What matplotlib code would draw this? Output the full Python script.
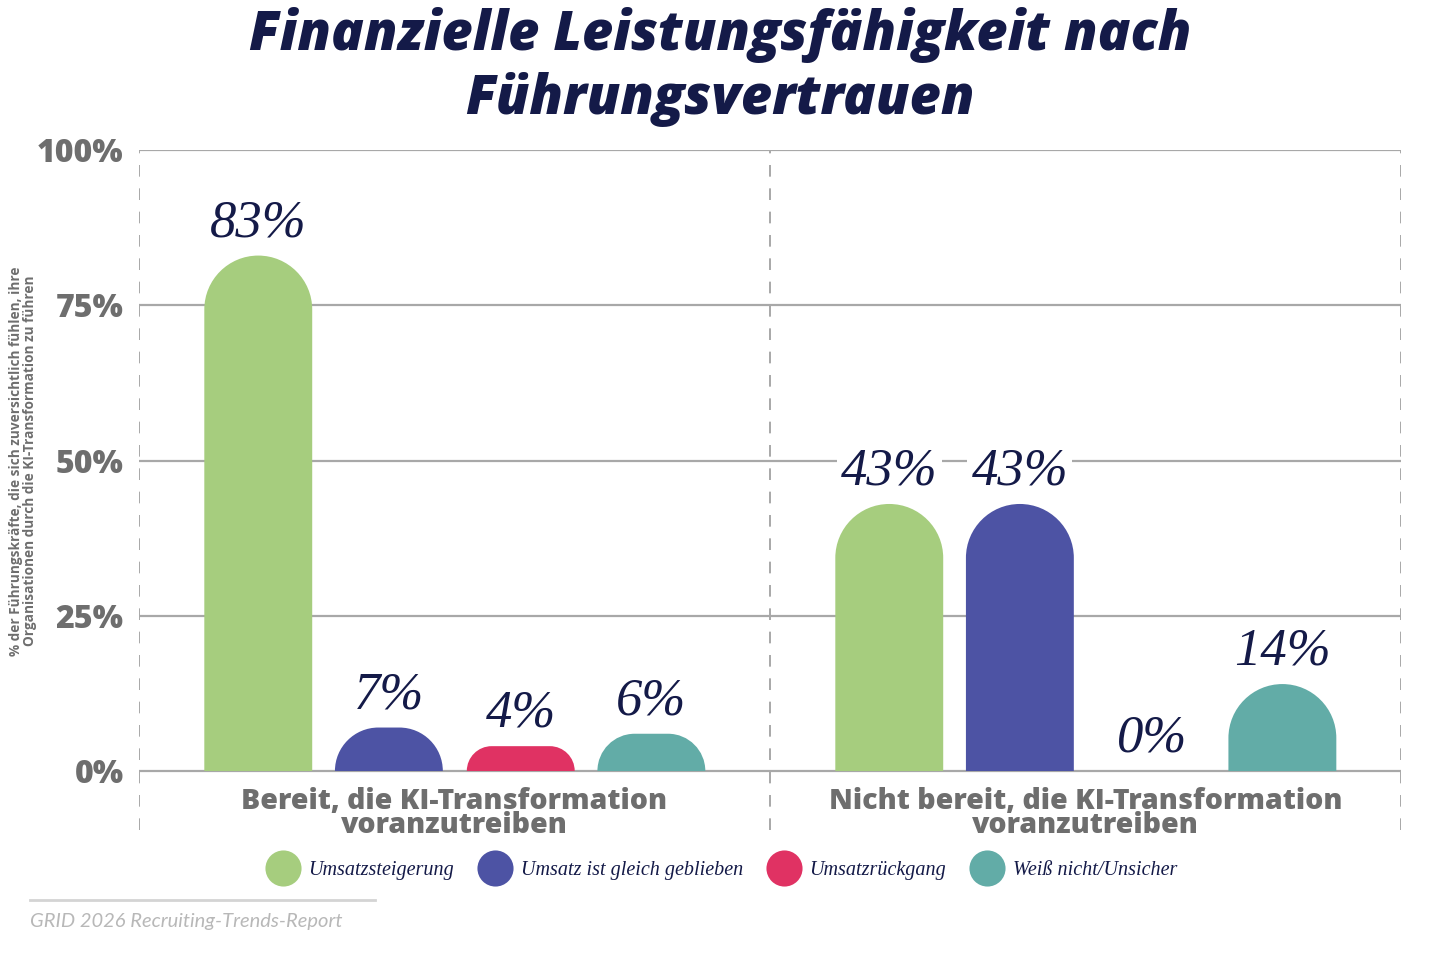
import matplotlib
matplotlib.use("Agg")
import matplotlib.pyplot as plt
from matplotlib.path import Path
from matplotlib.patches import PathPatch
from matplotlib.lines import Line2D

# data
groups = ["Bereit, die KI-Transformation\nvoranzutreiben",
          "Nicht bereit, die KI-Transformation\nvoranzutreiben"]
series = ["Umsatzsteigerung", "Umsatz ist gleich geblieben",
          "Umsatzrückgang", "Weiß nicht/Unsicher"]
values = [[83, 7, 4, 6],
          [43, 43, 0, 14]]
colors = ["#a6cd7e", "#4d53a4", "#e03263", "#62aca7"]
yticks = [0, 25, 50, 75, 100]
ytick_labels = ["0%", "25%", "50%", "75%", "100%"]

navy = "#141a48"
gray = "#6e6e6e"
grid_gray = "#a8a8a8"

W, H = 1440, 956
fig = plt.figure(figsize=(W / 100, H / 100), dpi=100)
ax = fig.add_axes([139 / W, (H - 830) / H, 1262 / W, 680 / H])
ax.set_xlim(-0.5, 1.5)
ax.set_ylim(-9.5, 100)
for s in ax.spines.values():
    s.set_visible(False)

# pixels per data unit
sx = 1262 / 2.0
sy = 680 / 109.5

offsets = [-0.311, -0.104, 0.105, 0.312]
width = 0.171


def rounded_bar(xc, h, w):
    """bar with rounded top corners, radius limited by height"""
    x0, x1 = xc - w / 2, xc + w / 2
    r_px = min(w * sx / 2, h * sy)
    rx, ry = r_px / sx, r_px / sy
    k = 0.5523
    verts = [(x0, 0), (x0, h - ry),
             (x0, h - ry + k * ry), (x0 + rx - k * rx, h), (x0 + rx, h),
             (x1 - rx, h),
             (x1 - rx + k * rx, h), (x1, h - ry + k * ry), (x1, h - ry),
             (x1, 0), (x0, 0)]
    codes = [Path.MOVETO, Path.LINETO,
             Path.CURVE4, Path.CURVE4, Path.CURVE4,
             Path.LINETO,
             Path.CURVE4, Path.CURVE4, Path.CURVE4,
             Path.LINETO, Path.CLOSEPOLY]
    return Path(verts, codes)


# grid
for y in yticks:
    ax.axhline(y, color=grid_gray, lw=1.6, zorder=1)
for x in [-0.5, 0.5, 1.5]:
    ax.plot([x, x], [-9.5, 100], color=grid_gray, lw=1.4,
            ls=(0, (6, 6)), zorder=1)

label_font = dict(family="Liberation Serif", style="italic", size=38,
                  color=navy)
for gi, vals in enumerate(values):
    for si, v in enumerate(vals):
        xc = gi + offsets[si]
        if v > 0:
            ax.add_patch(PathPatch(rounded_bar(xc, v, width),
                                   facecolor=colors[si], edgecolor="none",
                                   zorder=3))
        ax.annotate(f"{v}%", (xc, v), xytext=(0, 6),
                    textcoords="offset points", ha="center", va="bottom",
                    zorder=4,
                    bbox=dict(boxstyle="square,pad=0.08", fc="white",
                              ec="none"),
                    **label_font)

ax.set_xticks([])
ax.set_yticks(yticks)
ax.set_yticklabels(ytick_labels, fontfamily="Open Sans", fontweight="heavy",
                   fontsize=23, color=gray)
ax.tick_params(axis="y", length=0, pad=11)

for gi, g in enumerate(groups):
    ax.text(gi, -2.5, g, ha="center", va="top", fontfamily="Open Sans",
            fontweight="heavy", fontsize=20.5, color=gray, linespacing=0.78)

fig.text(23 / W, 1 - 461 / H,
         "% der Führungskräfte, die sich zuversichtlich fühlen, ihre\n"
         "Organisationen durch die KI-Transformation zu führen",
         rotation=90, ha="center", va="center", fontfamily="Open Sans",
         fontweight="bold", fontsize=9.8, color=gray, linespacing=1.05)

fig.text(0.5, 1 - 67 / H, "Finanzielle Leistungsfähigkeit nach\nFührungsvertrauen",
         ha="center", va="center", fontfamily="Open Sans", fontweight="heavy",
         style="italic", fontsize=39, color=navy, linespacing=1.2)

handles = [Line2D([], [], ls="none", marker="o", markersize=26,
                  markerfacecolor=c, markeredgecolor="none") for c in colors]
fig.legend(handles, series, loc="center", bbox_to_anchor=(0.5, 1 - 870 / H),
           ncol=4, frameon=False, handletextpad=0.25, columnspacing=1.05,
           prop=dict(family="Liberation Serif", style="italic", size=14.5),
           labelcolor=navy)

fig.add_artist(Line2D([30 / W, 375 / W], [1 - 900 / H, 1 - 900 / H],
                      color="#d4d4d4", lw=2))
fig.text(30 / W, 1 - 921 / H, "GRID 2026 Recruiting-Trends-Report",
         ha="left", va="center", fontfamily="Lato", style="italic",
         fontsize=14.5, color="#b8b8b8")

fig.savefig("out.png", dpi=100)
